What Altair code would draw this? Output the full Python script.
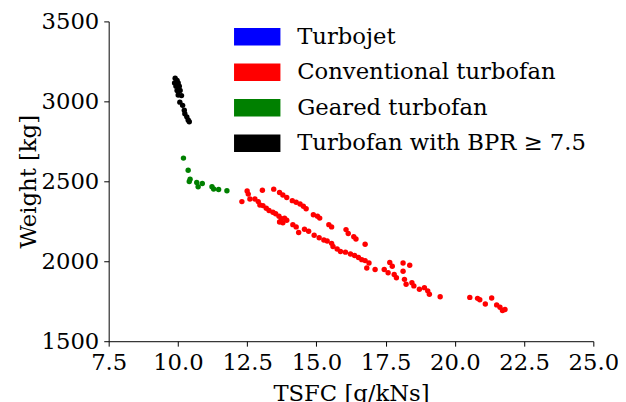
import altair as alt
import pandas as pd

categories = ["Turbojet", "Conventional turbofan", "Geared turbofan", "Turbofan with BPR ≥ 7.5"]
colors = ["#0000ff", "#ff0000", "#008000", "#000000"]

x_ticks = [7.5, 10.0, 12.5, 15.0, 17.5, 20.0, 22.5, 25.0]
y_ticks = [1500, 2000, 2500, 3000, 3500]

# Turbofan with BPR >= 7.5
bpr_tsfc = [9.90, 9.97, 9.88, 10.01, 9.93, 10.05, 9.97, 10.08, 10.01, 10.13,
            10.07, 10.17, 10.23, 10.25, 10.32, 10.37, 10.41]
bpr_weight = [3145, 3130, 3115, 3115, 3095, 3095, 3068, 3068, 3040, 3036,
              2995, 2975, 2944, 2923, 2903, 2883, 2872]

# Geared turbofan
geared_tsfc = [10.20, 10.37, 10.44, 10.41, 10.68, 10.73, 10.88, 11.23, 11.29, 11.47, 11.77]
geared_weight = [2645, 2569, 2513, 2499, 2493, 2466, 2486, 2466, 2452, 2449, 2441]

# Conventional turbofan
conv_tsfc = [12.50, 13.05, 13.46, 13.67, 13.79, 13.93, 14.13, 14.27, 14.41, 14.53,
             14.63, 14.89, 15.04, 15.12, 15.45, 15.55, 16.07, 16.15, 16.35, 16.43,
             16.76,
             12.31, 12.54, 12.60, 12.78, 12.90, 12.96, 13.07, 13.19, 13.29, 13.43,
             13.53, 13.65, 13.73, 13.85, 13.93, 13.67, 13.79, 14.15, 14.27, 14.36,
             14.57, 14.72, 14.92, 15.10, 15.27, 15.39, 15.55, 15.60, 15.75, 15.87,
             16.05, 16.23, 16.38, 16.52, 16.64, 16.76, 16.90, 16.82, 17.12, 17.45,
             17.65, 17.74, 17.59, 17.81, 18.13, 18.37, 18.13, 17.89, 18.18, 18.24,
             18.45, 18.52, 18.72, 18.90, 19.02, 19.08, 19.47, 20.54, 20.82, 20.90,
             21.10, 21.33, 21.51, 21.63, 21.81, 21.72]
conv_weight = [2440, 2444, 2451, 2430, 2414, 2399, 2379, 2369, 2358, 2344,
               2328, 2291, 2282, 2270, 2229, 2215, 2198, 2174, 2153, 2139,
               2106,
               2373, 2420, 2389, 2389, 2373, 2352, 2348, 2332, 2317, 2307,
               2297, 2282, 2266, 2270, 2256, 2246, 2241, 2229, 2215, 2180,
               2200, 2188, 2163, 2147, 2133, 2127, 2112, 2092, 2077, 2061,
               2057, 2045, 2036, 2024, 2010, 2004, 1989, 1958, 1948, 1948,
               1993, 1969, 1928, 1917, 1989, 1975, 1938, 1897, 1887, 1856,
               1866, 1846, 1825, 1835, 1815, 1794, 1778, 1774, 1768, 1759,
               1733, 1770, 1727, 1712, 1698, 1692]

rows = []
for t, w in zip(conv_tsfc, conv_weight):
    rows.append({"tsfc": t, "weight": w, "type": categories[1]})
for t, w in zip(geared_tsfc, geared_weight):
    rows.append({"tsfc": t, "weight": w, "type": categories[2]})
for t, w in zip(bpr_tsfc, bpr_weight):
    rows.append({"tsfc": t, "weight": w, "type": categories[3]})
df = pd.DataFrame(rows)

FONT = "DejaVu Serif"
FS = 23

chart = alt.Chart(df).mark_point(
    filled=True, size=30, opacity=1, strokeWidth=0
).encode(
    x=alt.X("tsfc:Q",
            scale=alt.Scale(domain=[7.5, 25], nice=False, zero=False),
            axis=alt.Axis(title="TSFC [g/kNs]", values=x_ticks, format=".1f",
                          labelPadding=6, titlePadding=8)),
    y=alt.Y("weight:Q",
            scale=alt.Scale(domain=[1500, 3500], nice=False, zero=False),
            axis=alt.Axis(title="Weight [kg]", values=y_ticks, format="d",
                          labelPadding=5, titlePadding=1)),
    color=alt.Color("type:N",
                    scale=alt.Scale(domain=categories, range=colors),
                    legend=alt.Legend(title=None, orient="none", legendX=127, legendY=-8,
                                      symbolType="M-1,-0.377H1V0.377H-1Z",
                                      symbolSize=2209, symbolStrokeWidth=0,
                                      symbolOpacity=1,
                                      labelFont=FONT, labelFontSize=FS,
                                      labelColor="black", labelOffset=17,
                                      rowPadding=-1, padding=0, labelLimit=400)),
).properties(
    width=491, height=324,
    padding={"left": 102, "top": 11, "right": 25, "bottom": 59},
    autosize=alt.AutoSizeParams(type="none"),
).configure_view(
    stroke=None
).configure_axis(
    grid=False, domainColor="black", tickColor="black", domainWidth=1, tickWidth=1,
    tickSize=5, labelFont=FONT, titleFont=FONT, labelFontSize=FS, titleFontSize=FS,
    labelColor="black", titleColor="black", titleFontWeight="normal", labelFlush=False,
    labelOverlap=False,
)

chart.save("out.html", embed_options={"renderer": "svg", "actions": False})
